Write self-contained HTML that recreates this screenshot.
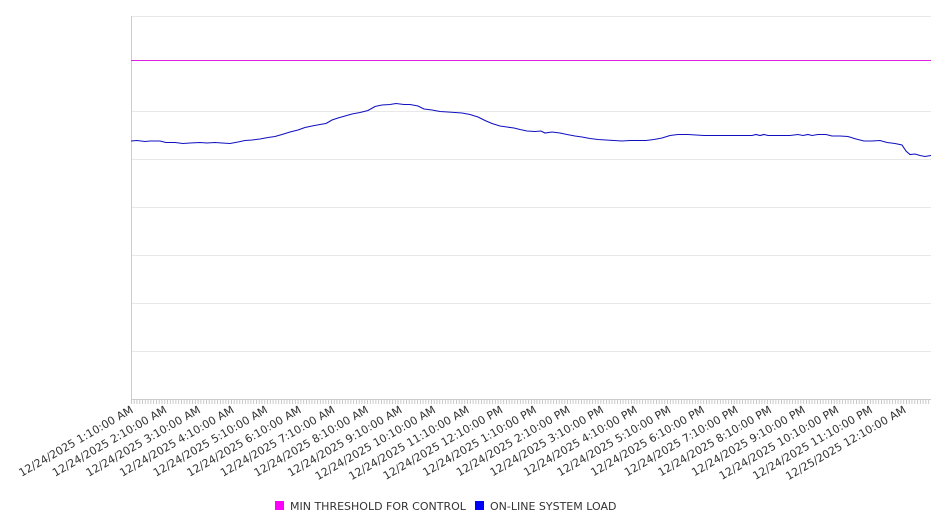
<!DOCTYPE html>
<html><head><meta charset="utf-8"><style>
html,body{margin:0;padding:0;background:#fff;}
svg{display:block;font-family:"DejaVu Sans","Liberation Sans",sans-serif;}
</style></head><body>
<svg width="946" height="526" viewBox="0 0 946 526" xmlns="http://www.w3.org/2000/svg">
<defs>
<pattern id="tk" x="131" y="400" width="2.7778" height="5" patternUnits="userSpaceOnUse">
<rect x="0" y="0" width="0.8" height="4" fill="#bbb"/>
</pattern>
</defs>
<g stroke="#e8e8e8" stroke-width="1">
<line x1="131" y1="16.5" x2="931" y2="16.5"/>
<line x1="131" y1="111.5" x2="931" y2="111.5"/>
<line x1="131" y1="159.5" x2="931" y2="159.5"/>
<line x1="131" y1="207.5" x2="931" y2="207.5"/>
<line x1="131" y1="255.5" x2="931" y2="255.5"/>
<line x1="131" y1="303.5" x2="931" y2="303.5"/>
<line x1="131" y1="351.5" x2="931" y2="351.5"/>
</g>
<line x1="131.5" y1="16" x2="131.5" y2="400" stroke="#ccc"/>
<line x1="131" y1="399.5" x2="931" y2="399.5" stroke="#ccc"/>
<rect x="131" y="400" width="800" height="4" fill="url(#tk)"/>
<line x1="131" y1="60.5" x2="931" y2="60.5" stroke="#e020e0" stroke-width="1"/>
<polyline fill="none" stroke="#1010c0" stroke-width="1.1" points="131,141 137,140.5 145,141.5 150,141 160,141 166,142.5 175,142.5 183,143.5 190,143 200,142.5 207,143 215,142.5 222,143 230,143.5 238,142 245,140.5 252,140 260,139 268,137.5 275,136.5 282,134.5 290,132 298,130 305,127.5 312,126 320,124.5 326,123.5 332,120 338,118 345,116 352,114 360,112.5 368,110.5 375,106.5 382,105 390,104.5 396,103.5 404,104.5 410,104.5 418,106 424,109 432,110 440,111.5 448,112 455,112.5 462,113 470,114.5 478,117 485,120.5 492,123.5 500,126 507,127 514,128 520,129.5 527,131 535,131.5 541,131 545,133 552,132 560,133 567,134.5 575,136 582,137 590,138.5 598,139.5 606,140 614,140.5 622,141 630,140.5 638,140.5 646,140.5 654,139.5 662,138 670,135.5 678,134.5 688,134.5 696,135 704,135.5 712,135.5 720,135.5 730,135.5 740,135.5 752,135.5 756,134.5 760,135.5 764,134.5 768,135.5 780,135.5 790,135.5 798,134.5 803,135.5 808,134.5 812,135.5 818,134.5 826,134.5 832,136 840,136 848,136.5 856,139 864,141 872,141 880,140.5 887,142.5 895,143.5 902,145 906,151 910,154.5 915,154 920,155.5 925,156.5 931,155.5"/>
<g font-size="11" fill="#333" text-anchor="end">
<text transform="translate(134,412) rotate(-30)">12/24/2025 1:10:00 AM</text>
<text transform="translate(167.6,412) rotate(-30)">12/24/2025 2:10:00 AM</text>
<text transform="translate(201.2,412) rotate(-30)">12/24/2025 3:10:00 AM</text>
<text transform="translate(234.8,412) rotate(-30)">12/24/2025 4:10:00 AM</text>
<text transform="translate(268.4,412) rotate(-30)">12/24/2025 5:10:00 AM</text>
<text transform="translate(302,412) rotate(-30)">12/24/2025 6:10:00 AM</text>
<text transform="translate(335.6,412) rotate(-30)">12/24/2025 7:10:00 AM</text>
<text transform="translate(369.2,412) rotate(-30)">12/24/2025 8:10:00 AM</text>
<text transform="translate(402.8,412) rotate(-30)">12/24/2025 9:10:00 AM</text>
<text transform="translate(436.4,412) rotate(-30)">12/24/2025 10:10:00 AM</text>
<text transform="translate(470,412) rotate(-30)">12/24/2025 11:10:00 AM</text>
<text transform="translate(503.6,412) rotate(-30)">12/24/2025 12:10:00 PM</text>
<text transform="translate(537.2,412) rotate(-30)">12/24/2025 1:10:00 PM</text>
<text transform="translate(570.8,412) rotate(-30)">12/24/2025 2:10:00 PM</text>
<text transform="translate(604.4,412) rotate(-30)">12/24/2025 3:10:00 PM</text>
<text transform="translate(638,412) rotate(-30)">12/24/2025 4:10:00 PM</text>
<text transform="translate(671.6,412) rotate(-30)">12/24/2025 5:10:00 PM</text>
<text transform="translate(705.2,412) rotate(-30)">12/24/2025 6:10:00 PM</text>
<text transform="translate(738.8,412) rotate(-30)">12/24/2025 7:10:00 PM</text>
<text transform="translate(772.4,412) rotate(-30)">12/24/2025 8:10:00 PM</text>
<text transform="translate(806,412) rotate(-30)">12/24/2025 9:10:00 PM</text>
<text transform="translate(839.6,412) rotate(-30)">12/24/2025 10:10:00 PM</text>
<text transform="translate(873.2,412) rotate(-30)">12/24/2025 11:10:00 PM</text>
<text transform="translate(906.8,412) rotate(-30)">12/25/2025 12:10:00 AM</text>
</g>
<rect x="275" y="501" width="9" height="9" fill="#ff00ff"/>
<text x="290" y="510" font-size="11" fill="#333">MIN THRESHOLD FOR CONTROL</text>
<rect x="475" y="501" width="9" height="9" fill="#0000ff"/>
<text x="490" y="510" font-size="11" fill="#333">ON-LINE SYSTEM LOAD</text>
</svg>
</body></html>
